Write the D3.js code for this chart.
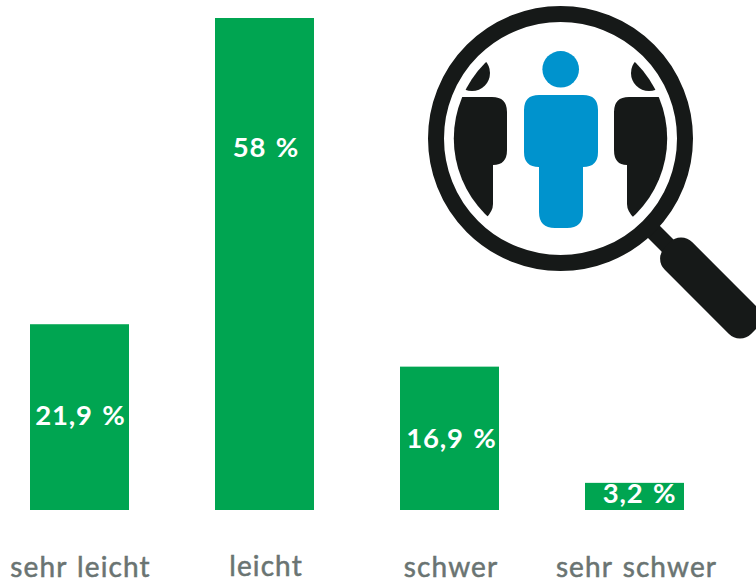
<!DOCTYPE html>
<html><head><meta charset="utf-8">
<script src="https://cdn.jsdelivr.net/npm/d3@7"></script>
<style>html,body{margin:0;padding:0;background:#fff}svg{display:block}</style></head>
<body><svg id="c" width="756" height="583"></svg>
<script>
const categories=["sehr leicht","leicht","schwer","sehr schwer"];
const values=[21.9,58,16.9,3.2];
const valueLabels=["21,9 %","58 %","16,9 %","3,2 %"];
const svg=d3.select("#c");
const font="Lato,'Noto Sans',sans-serif";
const x=d3.scaleBand().domain(categories).range([30,684]).paddingInner(86/185).paddingOuter(0);
const y=d3.scaleLinear().domain([0,58]).range([510,18]);
svg.selectAll("rect.bar").data(categories).join("rect").attr("class","bar")
 .attr("x",d=>x(d)).attr("width",x.bandwidth())
 .attr("y",(d,i)=>y(values[i])).attr("height",(d,i)=>y(0)-y(values[i])).attr("fill","#00a551");
const labelDx=[1,1.5,2,5];
const labelBase=[425,157,448,503];
svg.selectAll("text.v").data(valueLabels).join("text").attr("class","v")
 .attr("x",(d,i)=>x(categories[i])+x.bandwidth()/2+labelDx[i]).attr("y",(d,i)=>labelBase[i])
 .attr("text-anchor","middle").attr("fill","#fff").attr("font-family",font).attr("font-weight",700).attr("font-size",27.5).attr("letter-spacing",0.8).attr("word-spacing",2).text(d=>d);
const catDx=[1,1.5,1.5,2];
const catBase=[577,576,577,577];
svg.selectAll("text.c").data(categories).join("text").attr("class","c")
 .attr("x",(d,i)=>x(d)+x.bandwidth()/2+catDx[i]).attr("y",(d,i)=>catBase[i])
 .attr("text-anchor","middle").attr("fill","#6a7472").attr("stroke","#6a7472").attr("stroke-width",0.5).attr("font-family",font).attr("font-weight",400).attr("font-size",28).attr("letter-spacing",1.1).attr("word-spacing",2).text(d=>d);
const g=svg.append("g");
const dark="#161918", blue="#0093cd";
g.append("line").attr("x1",648).attr("y1",226).attr("x2",670).attr("y2",248).attr("stroke",dark).attr("stroke-width",17);
g.append("rect").attr("x",0).attr("y",-19.5).attr("width",122.4).attr("height",39).attr("rx",16)
 .attr("transform","translate(667.25,244.75) rotate(45)").attr("fill",dark);
svg.append("defs").append("clipPath").attr("id","lens").append("circle").attr("cx",560.5).attr("cy",138.5).attr("r",106.7);
const side=g.append("g").attr("clip-path","url(#lens)");
side.append("path").attr("fill",dark).attr("d","M440 97 H492 Q507 97 507 112 V150 Q507 165 493 165 V204 Q493 211 486 218 H440 Z");
side.append("path").attr("fill",dark).attr("d","M681 97 H629 Q614 97 614 112 V150 Q614 165 627 165 V204 Q627 211 634 218 H681 Z");
side.append("circle").attr("cx",472).attr("cy",73).attr("r",18).attr("fill",dark);
side.append("circle").attr("cx",649).attr("cy",73).attr("r",18).attr("fill",dark);
g.append("circle").attr("cx",560.5).attr("cy",138.5).attr("r",124.5).attr("fill","none").attr("stroke",dark).attr("stroke-width",16);
g.append("circle").attr("cx",560.7).attr("cy",69.3).attr("r",18.3).attr("fill",blue);
g.append("path").attr("fill",blue).attr("d","M539 95 H583 Q598 95 598 110 V152 Q598 167 583 167 V212 Q583 228 567 228 H555 Q539 228 539 212 V167 Q524 167 524 152 V110 Q524 95 539 95 Z");
</script></body></html>
